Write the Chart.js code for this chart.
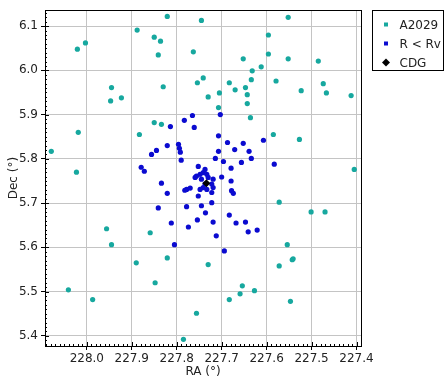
<!DOCTYPE html>
<html>
<head>
<meta charset="utf-8">
<script src="https://cdn.jsdelivr.net/npm/chart.js@4/dist/chart.umd.min.js"></script>
<style>
  body { margin: 0; background: #fff; }
  canvas { display: block; }
</style>
</head>
<body>
<canvas id="chart" width="445" height="386"></canvas>
<script>
// ===== Data =====
const raTicks = [228.0, 227.9, 227.8, 227.7, 227.6, 227.5, 227.4];
const decTicks = [5.4, 5.5, 5.6, 5.7, 5.8, 5.9, 6.0, 6.1];

const a2029RA = [227.821,227.745,227.552,227.888,227.850,227.836,227.841,228.021,228.003,227.763,
  227.596,227.596,227.652,227.552,227.485,227.612,227.632,227.741,227.754,227.683,
  227.634,227.579,227.474,227.467,227.523,227.412,227.670,227.647,227.643,227.705,
  227.730,227.643,227.707,227.636,227.945,227.947,227.923,227.830,227.850,227.834,
  227.883,228.019,228.079,228.023,227.585,227.527,227.405,227.572,227.501,227.470,
  227.956,227.859,227.945,227.554,227.890,227.821,227.730,227.572,227.543,227.541,
  227.848,228.041,227.987,227.654,227.627,227.659,227.683,227.547,227.756,227.785];
const a2029Dec = [6.122,6.113,6.120,6.091,6.075,6.066,6.035,6.048,6.062,6.042,
  6.080,6.037,6.026,6.026,6.021,6.008,5.999,5.983,5.972,5.972,
  5.979,5.976,5.970,5.949,5.954,5.943,5.956,5.961,5.945,5.949,
  5.940,5.925,5.916,5.893,5.961,5.931,5.938,5.963,5.882,5.878,
  5.855,5.860,5.817,5.770,5.855,5.844,5.776,5.702,5.680,5.680,
  5.642,5.633,5.606,5.606,5.565,5.576,5.561,5.558,5.572,5.574,
  5.520,5.504,5.482,5.513,5.502,5.495,5.482,5.478,5.451,5.392];

const rvRA = [227.703,227.765,227.783,227.761,227.814,227.707,227.607,227.687,227.652,227.796,
  227.821,227.794,227.845,227.671,227.639,227.707,227.792,227.856,227.714,227.634,
  227.790,227.696,227.656,227.583,227.879,227.872,227.679,227.752,227.737,227.756,
  227.748,227.741,227.733,227.759,227.730,227.719,227.745,227.722,227.737,227.741,
  227.748,227.733,227.722,227.719,227.700,227.679,227.678,227.674,227.778,227.770,
  227.782,227.752,227.722,227.745,227.778,227.834,227.821,227.841,227.736,227.683,
  227.812,227.719,227.668,227.647,227.754,227.774,227.641,227.621,227.712,227.805,227.694];
const rvDec = [5.900,5.898,5.887,5.871,5.873,5.852,5.842,5.837,5.835,5.833,
  5.830,5.824,5.819,5.821,5.817,5.817,5.815,5.810,5.801,5.801,
  5.797,5.794,5.792,5.788,5.781,5.772,5.779,5.783,5.776,5.761,
  5.765,5.769,5.765,5.758,5.758,5.754,5.754,5.743,5.743,5.735,
  5.731,5.731,5.724,5.735,5.759,5.750,5.728,5.722,5.731,5.734,
  5.729,5.716,5.701,5.694,5.692,5.745,5.722,5.689,5.678,5.673,
  5.655,5.657,5.655,5.657,5.662,5.646,5.635,5.639,5.626,5.606,5.592];

const cdgRA = [227.734];
const cdgDec = [5.745];

const toPoints = (xs, ys) => xs.map((x, i) => ({ x: x, y: ys[i] }));

const cyan = "#17a89f";
const blue = "#0b0bd0";
const tickFont = { family: "DejaVu Sans", size: 12 };

// ===== Frame, minor ticks, boxed legend =====
const framePlugin = {
  id: "frame",
  afterDatasetsDraw(chart) {
    const { ctx, chartArea: a, scales } = chart;
    ctx.save();
    ctx.strokeStyle = "#000";
    ctx.lineWidth = 1;
    ctx.strokeRect(Math.round(a.left) + 0.5, Math.round(a.top) + 0.5,
      Math.round(a.right - a.left), Math.round(a.bottom - a.top));

    ctx.beginPath();
    const xs = scales.x;
    for (let k = Math.ceil(xs.min * 100); k <= Math.floor(xs.max * 100); k++) {
      const px = Math.round(xs.getPixelForValue(k / 100)) + 0.5;
      const len = k % 10 === 0 ? 4 : 2;
      ctx.moveTo(px, a.bottom);
      ctx.lineTo(px, a.bottom - len);
    }
    const ys = scales.y;
    for (let k = Math.ceil(ys.min * 100); k <= Math.floor(ys.max * 100); k++) {
      const py = Math.round(ys.getPixelForValue(k / 100)) + 0.5;
      const len = k % 10 === 0 ? 4 : 2;
      ctx.moveTo(a.left, py);
      ctx.lineTo(a.left + len, py);
    }
    ctx.stroke();
    ctx.restore();
  },
  afterDraw(chart) {
    const { ctx, chartArea: a } = chart;
    const bx = Math.round(a.right) + 11.5, by = Math.round(a.top) + 0.5;
    ctx.save();
    ctx.fillStyle = "#fff";
    ctx.fillRect(bx, by, 71, 60);
    ctx.strokeStyle = "#000";
    ctx.strokeRect(bx, by, 71, 60);
    ctx.font = "12px 'DejaVu Sans'";
    ctx.textBaseline = "middle";
    chart.data.datasets.forEach((ds, i) => {
      const cy = by + 14 + i * 19;
      const mx = bx + 2 + 11.5;
      ctx.fillStyle = ds.backgroundColor;
      if (ds.pointStyle === "rectRot") {
        ctx.beginPath();
        ctx.moveTo(mx, cy - 4);
        ctx.lineTo(mx + 4, cy);
        ctx.lineTo(mx, cy + 4);
        ctx.lineTo(mx - 4, cy);
        ctx.closePath();
        ctx.fill();
      } else {
        ctx.fillRect(mx - 2, cy - 2, 4, 4);
      }
      ctx.fillStyle = "#222";
      ctx.fillText(ds.label, bx + 27, cy + 1);
    });
    ctx.restore();
  }
};

// ===== Chart =====
new Chart(document.getElementById("chart"), {
  type: "scatter",
  data: {
    datasets: [
      {
        label: "A2029",
        data: toPoints(a2029RA, a2029Dec),
        backgroundColor: cyan,
        borderWidth: 0,
        pointRadius: 2.6,
        order: 2
      },
      {
        label: "R < Rv",
        data: toPoints(rvRA, rvDec),
        backgroundColor: blue,
        borderWidth: 0,
        pointRadius: 2.6,
        order: 1
      },
      {
        label: "CDG",
        data: toPoints(cdgRA, cdgDec),
        backgroundColor: "#000",
        borderWidth: 0,
        pointStyle: "rectRot",
        pointRadius: 4,
        order: 0
      }
    ]
  },
  options: {
    responsive: false,
    animation: false,
    layout: { padding: { left: 3, right: 84, top: 8, bottom: 3 } },
    plugins: { legend: { display: false }, tooltip: { enabled: false } },
    scales: {
      x: {
        type: "linear",
        reverse: true,
        min: 227.39,
        max: 228.093,
        afterBuildTicks: s => { s.ticks = raTicks.map(v => ({ value: v })); },
        afterFit: s => { s.height = 37; },
        ticks: {
          font: tickFont,
          color: "#222",
          padding: 2,
          maxRotation: 0,
          callback: v => v.toFixed(1)
        },
        grid: { color: "#c4c4c4", tickColor: "#000", tickLength: 4 },
        border: { color: "#000" },
        title: { display: true, text: "RA (°)", font: tickFont, color: "#222" }
      },
      y: {
        type: "linear",
        min: 5.377,
        max: 6.136,
        afterBuildTicks: s => { s.ticks = decTicks.map(v => ({ value: v })); },
        afterFit: s => { s.width = 42; },
        ticks: {
          font: tickFont,
          color: "#222",
          padding: 3,
          callback: v => v.toFixed(1)
        },
        grid: { color: "#c4c4c4", tickColor: "#000", tickLength: 4 },
        border: { color: "#000" },
        title: { display: true, text: "Dec (°)", font: tickFont, color: "#222" }
      }
    }
  },
  plugins: [framePlugin]
});
</script>
</body>
</html>
